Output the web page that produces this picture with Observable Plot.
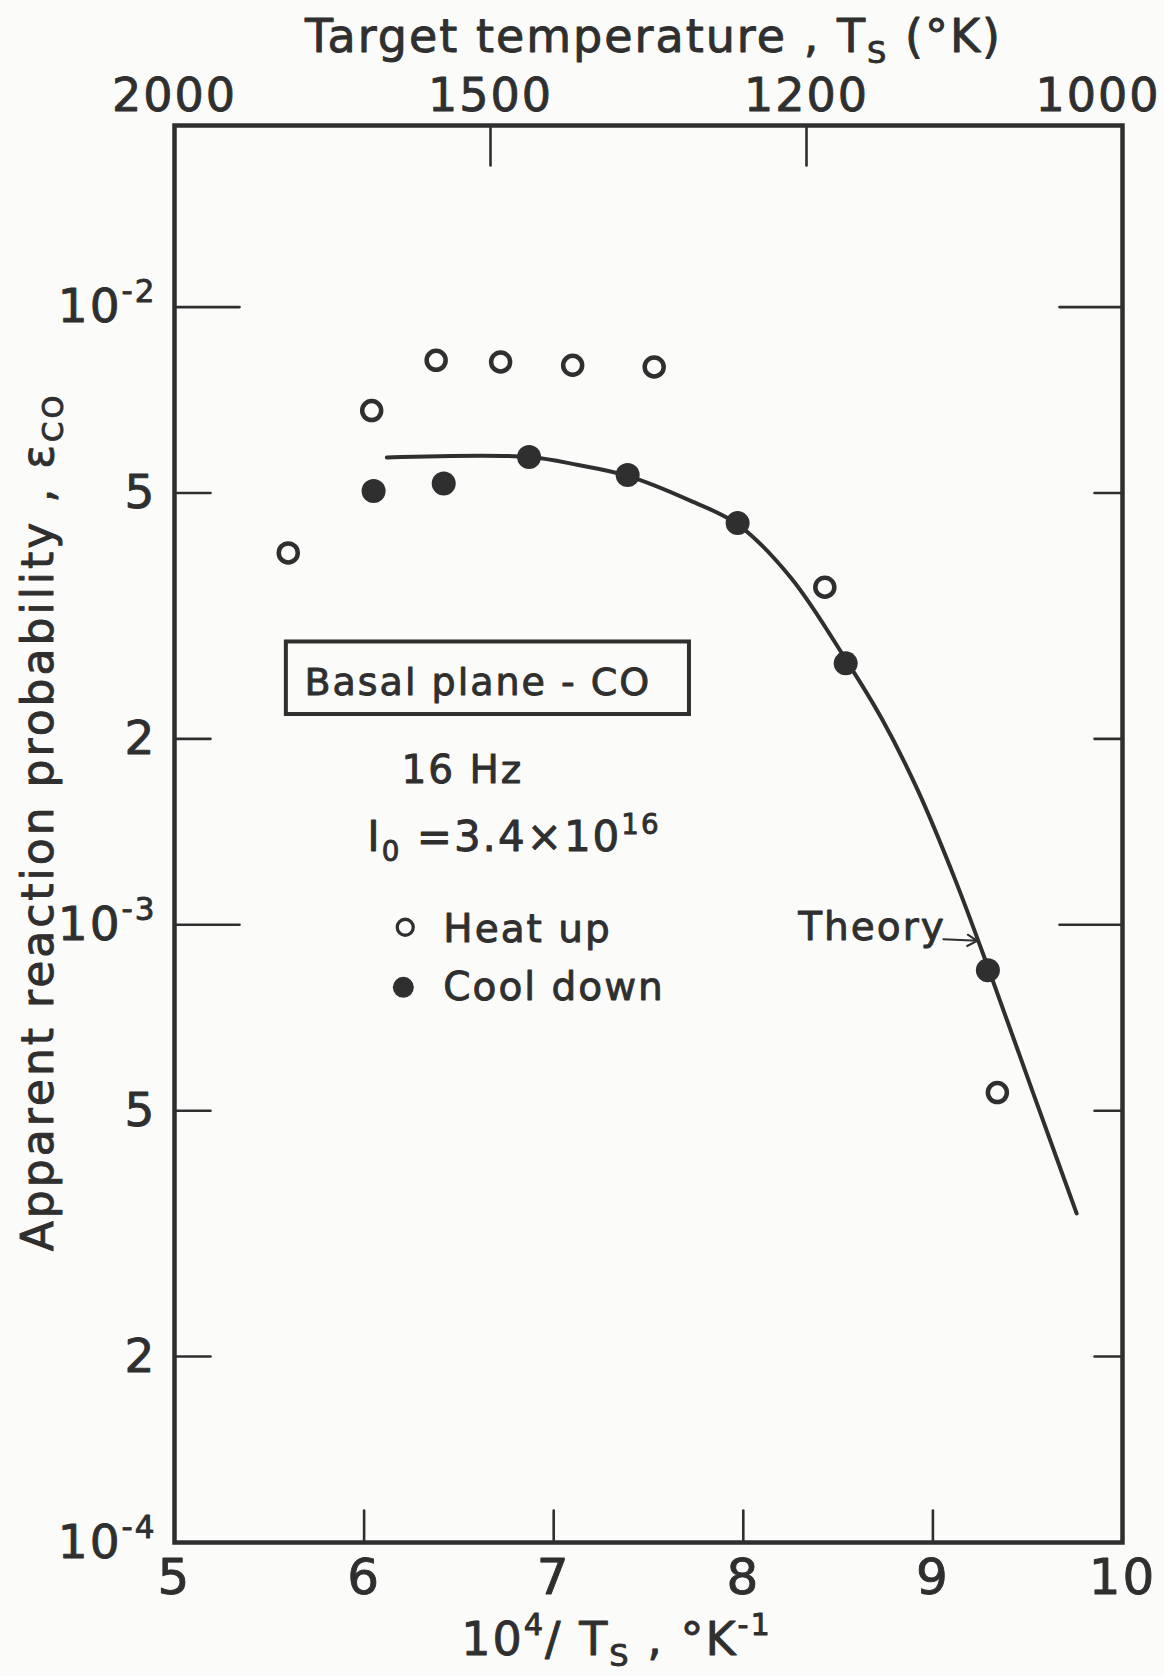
<!DOCTYPE html>
<html><head><meta charset="utf-8">
<script src="https://cdn.jsdelivr.net/npm/d3@7"></script>
<script src="https://cdn.jsdelivr.net/npm/@observablehq/plot@0.6"></script>
<style>
html,body{margin:0;padding:0;background:#fbfbfa;}
#chart svg text{letter-spacing:2px;stroke:#2f2f2f;stroke-width:0.9px;stroke-linejoin:round;}
</style>
</head><body><div id="chart"></div>
<script>
const INK = "#2f2f2f";
const BG = "#fbfbfa";

// Bottom axis: 10^4 / Ts  (K^-1)
const xTicks = [5, 6, 7, 8, 9, 10];
// Top axis: target temperature Ts (K)
const tempTicks = [2000, 1500, 1200, 1000];
// Left / right axis: apparent reaction probability (log)
const yTicks = [1e-2, 5e-3, 2e-3, 1e-3, 5e-4, 2e-4, 1e-4];
const yTickLabels = ["10^{-2}", "5", "2", "10^{-3}", "5", "2", "10^{-4}"];

// Heat up (open circles)
const heatX = [5.60, 6.04, 6.38, 6.72, 7.10, 7.53, 8.43, 9.34];
const heatY = [4.0e-3, 6.8e-3, 8.2e-3, 8.15e-3, 8.05e-3, 8.0e-3, 3.52e-3, 5.35e-4];

// Cool down (filled circles)
const coolX = [6.05, 6.42, 6.87, 7.39, 7.97, 8.54, 9.29];
const coolY = [5.04e-3, 5.18e-3, 5.72e-3, 5.35e-3, 4.47e-3, 2.65e-3, 8.44e-4];

// Theory curve
const theoryX = [6.12, 6.87, 7.13, 7.39, 7.72, 7.97, 8.25, 8.55, 8.73, 8.92, 9.12, 9.295, 9.526, 9.758];
const theoryY = [5.71e-3, 5.72e-3, 5.55e-3, 5.33e-3, 4.86e-3, 4.45e-3, 3.65e-3, 2.66e-3, 2.157e-3, 1.652e-3, 1.178e-3, 8.46e-4, 5.37e-4, 3.41e-4];

// Annotations
const boxText = "Basal plane - CO";
const boxX = [5.59, 7.716];
const boxY = [2.19e-3, 2.87e-3];
const boxTextAt = [6.60, 2.352e-3];
const centeredNotes = [{text: "16 Hz", x: 6.518, y: 1.695e-3}];
const leftNotes = [
  {text: "Heat up", x: 6.418, y: 9.37e-4},
  {text: "Cool down", x: 6.418, y: 7.55e-4}
];
const intensityNote = [{text: "I_{0} =3.4×10^{16}", x: 6.017, y: 1.315e-3}];
const legendHeat = [{x: 6.217, y: 9.91e-4}];
const legendCool = [{x: 6.207, y: 7.92e-4}];
const theoryLabel = [{text: "Theory", x: 8.29, y: 9.44e-4}];
const theoryArrow = [{x1: 9.055, y1: 9.48e-4, x2: 9.234, y2: 9.42e-4}];

const topTitle = "Target temperature , T_{S} (°K)";
const bottomTitle = "10^{4}/ T_{S} , °K^{-1}";
const leftTitle = "Apparent reaction probability , ε_{CO}";

const heat = heatX.map((x, i) => ({x, y: heatY[i]}));
const cool = coolX.map((x, i) => ({x, y: coolY[i]}));
const theory = theoryX.map((x, i) => ({x, y: theoryY[i]}));

const tick = {draw(context, l) { context.moveTo(0, 0); context.lineTo(0, -l); }};
const isDecade = d => Math.abs(Math.log10(d) - Math.round(Math.log10(d))) < 1e-9;
const innerY = yTicks.filter(d => d > 1e-4);
const tickStyle = {anchor: "start", shape: tick, stroke: INK, strokeWidth: 2.6};

const plot = Plot.plot({
  width: 1164,
  height: 1676,
  marginTop: 125,
  marginBottom: 134,
  marginLeft: 174,
  marginRight: 42,
  style: {background: BG, fontFamily: "'DejaVu Sans', sans-serif", color: INK},
  x: {domain: [5, 10], axis: null},
  y: {type: "log", domain: [1e-4, 0.01968], axis: null},
  marks: [
    Plot.frame({stroke: INK, strokeWidth: 4.5}),
    // inner ticks
    Plot.vector(innerY.filter(isDecade), {y: d => d, frameAnchor: "left", rotate: 90, length: 65, ...tickStyle}),
    Plot.vector(innerY.filter(d => !isDecade(d)), {y: d => d, frameAnchor: "left", rotate: 90, length: 36, ...tickStyle}),
    Plot.vector(innerY.filter(isDecade), {y: d => d, frameAnchor: "right", rotate: -90, length: 63, ...tickStyle}),
    Plot.vector(innerY.filter(d => !isDecade(d)), {y: d => d, frameAnchor: "right", rotate: -90, length: 28, ...tickStyle}),
    Plot.vector(xTicks.filter(d => d > 5 && d < 10), {x: d => d, frameAnchor: "bottom", rotate: 0, length: 32, ...tickStyle}),
    Plot.vector(tempTicks.filter(t => t < 2000 && t > 1000), {x: t => 1e4 / t, frameAnchor: "top", rotate: 180, length: 40, ...tickStyle}),
    // tick labels
    Plot.text(yTicks, {y: d => d, text: (d, i) => yTickLabels[i], frameAnchor: "left", textAnchor: "end", lineAnchor: "middle", dx: -18, fontSize: 47, fill: INK}),
    Plot.text(xTicks, {x: d => d, text: d => String(d), frameAnchor: "bottom", textAnchor: "middle", lineAnchor: "bottom", dy: 51, fontSize: 50, fill: INK}),
    Plot.text(tempTicks.filter(t => t > 1000), {x: t => 1e4 / t, text: t => String(t), frameAnchor: "top", textAnchor: "middle", lineAnchor: "bottom", dy: -15, fontSize: 46, fill: INK}),
    Plot.text(tempTicks.filter(t => t === 1000), {x: t => 1e4 / t, text: t => String(t), frameAnchor: "top", lineAnchor: "bottom", textAnchor: "end", dx: 38, dy: -15, fontSize: 46, fill: INK}),
    // axis titles
    Plot.text([topTitle], {text: d => d, frameAnchor: "top", textAnchor: "middle", lineAnchor: "bottom", dx: 5, dy: -74, fontSize: 46, fill: INK}),
    Plot.text([bottomTitle], {text: d => d, frameAnchor: "bottom", textAnchor: "middle", lineAnchor: "bottom", dx: -32, dy: 112, fontSize: 46, fill: INK}),
    Plot.text([leftTitle], {text: d => d, frameAnchor: "left", textAnchor: "middle", rotate: -90, lineAnchor: "bottom", dx: -122, dy: -12, fontSize: 44, fill: INK}),
    // theory curve
    Plot.line(theory, {x: "x", y: "y", curve: "catmull-rom", stroke: INK, strokeWidth: 4, strokeLinecap: "round"}),
    // data
    Plot.dot(heat, {x: "x", y: "y", r: 9.5, stroke: INK, strokeWidth: 4.5, fill: "none"}),
    Plot.dot(cool, {x: "x", y: "y", r: 12, fill: INK, stroke: "none"}),
    // annotation box
    Plot.rect([{}], {x1: () => boxX[0], x2: () => boxX[1], y1: () => boxY[0], y2: () => boxY[1], stroke: INK, strokeWidth: 4, fill: "none"}),
    Plot.text([boxText], {x: () => boxTextAt[0], y: () => boxTextAt[1], text: d => d, lineAnchor: "bottom", fontSize: 38, fill: INK}),
    Plot.text(centeredNotes, {x: "x", y: "y", text: "text", lineAnchor: "bottom", fontSize: 39, fill: INK}),
    Plot.text(intensityNote, {x: "x", y: "y", text: "text", textAnchor: "start", lineAnchor: "bottom", fontSize: 42, fill: INK}),
    Plot.text(leftNotes, {x: "x", y: "y", text: "text", textAnchor: "start", lineAnchor: "bottom", fontSize: 39, fill: INK}),
    Plot.dot(legendHeat, {x: "x", y: "y", r: 8, stroke: INK, strokeWidth: 3.3, fill: "none"}),
    Plot.dot(legendCool, {x: "x", y: "y", r: 10.5, fill: INK, stroke: "none"}),
    Plot.text(theoryLabel, {x: "x", y: "y", text: "text", textAnchor: "start", lineAnchor: "bottom", fontSize: 39, fill: INK}),
    Plot.arrow(theoryArrow, {x1: "x1", y1: "y1", x2: "x2", y2: "y2", stroke: INK, strokeWidth: 2, headLength: 10})
  ]
});

document.getElementById("chart").appendChild(plot);

// wider tracking for the long rotated title
plot.querySelectorAll("text").forEach(t => {
  if (t.textContent === leftTitle) t.style.letterSpacing = "3px";
});

// render ^{...} and _{...} as superscript / subscript tspans
function richText(root) {
  const NS = "http://www.w3.org/2000/svg";
  root.querySelectorAll("text").forEach(t => {
    const s = t.textContent;
    if (!/[\^_]\{/.test(s)) return;
    const fs = parseFloat(getComputedStyle(t).fontSize);
    t.textContent = "";
    const re = /([\^_])\{([^}]*)\}/g;
    let last = 0, m, offset = 0;
    const add = (str, kind) => {
      const ts = document.createElementNS(NS, "tspan");
      const target = kind === "^" ? -0.42 * fs : kind === "_" ? 0.24 * fs : 0;
      const dy = target - offset;
      if (dy) ts.setAttribute("dy", dy);
      offset = target;
      if (kind) ts.setAttribute("font-size", 0.66 * fs);
      ts.textContent = str;
      t.appendChild(ts);
    };
    while ((m = re.exec(s))) {
      if (m.index > last) add(s.slice(last, m.index), null);
      add(m[2], m[1]);
      last = re.lastIndex;
    }
    if (last < s.length) add(s.slice(last), null);
  });
}
richText(plot);
</script>
</body></html>
